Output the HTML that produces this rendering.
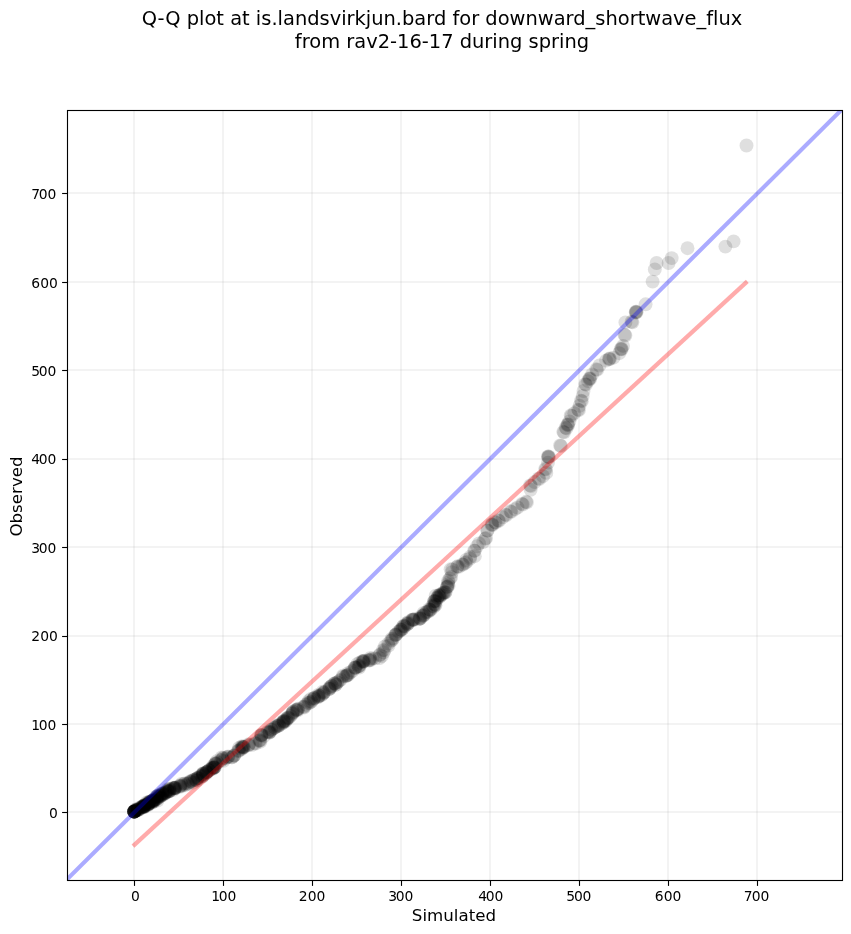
<!DOCTYPE html>
<html lang="en"><head><meta charset="utf-8"><title>Q-Q plot</title>
<style>html,body{margin:0;padding:0;background:#fff}body{width:851px;height:934px;overflow:hidden}</style></head>
<body>
<svg width="851" height="934" viewBox="0 0 851 934" style="display:block">
<rect x="0" y="0" width="851" height="934" fill="#fff"/>
<defs><clipPath id="ax"><rect x="67.5" y="110.5" width="775.0" height="770.0"/></clipPath></defs>
<g stroke="#b0b0b0" stroke-opacity="0.15" stroke-width="2" fill="none" clip-path="url(#ax)">
<line x1="134" y1="110.5" x2="134" y2="880.5"/>
<line x1="67.5" y1="812" x2="842.5" y2="812"/>
<line x1="223" y1="110.5" x2="223" y2="880.5"/>
<line x1="67.5" y1="724" x2="842.5" y2="724"/>
<line x1="312" y1="110.5" x2="312" y2="880.5"/>
<line x1="67.5" y1="636" x2="842.5" y2="636"/>
<line x1="401" y1="110.5" x2="401" y2="880.5"/>
<line x1="67.5" y1="547" x2="842.5" y2="547"/>
<line x1="490" y1="110.5" x2="490" y2="880.5"/>
<line x1="67.5" y1="459" x2="842.5" y2="459"/>
<line x1="579" y1="110.5" x2="579" y2="880.5"/>
<line x1="67.5" y1="370" x2="842.5" y2="370"/>
<line x1="668" y1="110.5" x2="668" y2="880.5"/>
<line x1="67.5" y1="282" x2="842.5" y2="282"/>
<line x1="757" y1="110.5" x2="757" y2="880.5"/>
<line x1="67.5" y1="193" x2="842.5" y2="193"/>
</g>
<g fill="#000" fill-opacity="0.125" clip-path="url(#ax)">
<circle cx="134.1" cy="811.5" r="6.95"/>
<circle cx="134.2" cy="811.5" r="6.95"/>
<circle cx="134.3" cy="811.5" r="6.95"/>
<circle cx="134.1" cy="811.6" r="6.95"/>
<circle cx="134.2" cy="811.6" r="6.95"/>
<circle cx="134.3" cy="811.6" r="6.95"/>
<circle cx="134.1" cy="811.7" r="6.95"/>
<circle cx="134.2" cy="811.7" r="6.95"/>
<circle cx="134.3" cy="811.7" r="6.95"/>
<circle cx="134.1" cy="811.5" r="6.95"/>
<circle cx="134.2" cy="811.5" r="6.95"/>
<circle cx="134.3" cy="811.5" r="6.95"/>
<circle cx="134.1" cy="811.6" r="6.95"/>
<circle cx="134.2" cy="811.6" r="6.95"/>
<circle cx="134.3" cy="811.6" r="6.95"/>
<circle cx="134.1" cy="811.7" r="6.95"/>
<circle cx="138.3" cy="808.9" r="6.95"/>
<circle cx="135.3" cy="810.7" r="6.95"/>
<circle cx="138.1" cy="810.2" r="6.95"/>
<circle cx="135.1" cy="809.9" r="6.95"/>
<circle cx="138.2" cy="809.7" r="6.95"/>
<circle cx="139.5" cy="809.4" r="6.95"/>
<circle cx="136.9" cy="809.8" r="6.95"/>
<circle cx="140.5" cy="807.9" r="6.95"/>
<circle cx="135.7" cy="809.7" r="6.95"/>
<circle cx="137.3" cy="809.9" r="6.95"/>
<circle cx="136.6" cy="810.1" r="6.95"/>
<circle cx="137.7" cy="810.1" r="6.95"/>
<circle cx="138.7" cy="809.3" r="6.95"/>
<circle cx="135.0" cy="811.5" r="6.95"/>
<circle cx="135.2" cy="810.7" r="6.95"/>
<circle cx="135.2" cy="810.9" r="6.95"/>
<circle cx="136.2" cy="810.5" r="6.95"/>
<circle cx="141.5" cy="807.6" r="6.95"/>
<circle cx="137.8" cy="808.5" r="6.95"/>
<circle cx="142.8" cy="807.1" r="6.95"/>
<circle cx="142.6" cy="806.1" r="6.95"/>
<circle cx="143.3" cy="805.9" r="6.95"/>
<circle cx="145.1" cy="805.2" r="6.95"/>
<circle cx="143.7" cy="806.4" r="6.95"/>
<circle cx="143.8" cy="805.8" r="6.95"/>
<circle cx="144.1" cy="806.1" r="6.95"/>
<circle cx="144.7" cy="806.4" r="6.95"/>
<circle cx="142.7" cy="806.2" r="6.95"/>
<circle cx="143.9" cy="806.6" r="6.95"/>
<circle cx="144.8" cy="805.5" r="6.95"/>
<circle cx="143.7" cy="806.8" r="6.95"/>
<circle cx="143.2" cy="806.8" r="6.95"/>
<circle cx="142.8" cy="806.3" r="6.95"/>
<circle cx="141.3" cy="807.3" r="6.95"/>
<circle cx="144.0" cy="807.4" r="6.95"/>
<circle cx="144.4" cy="806.8" r="6.95"/>
<circle cx="144.0" cy="806.7" r="6.95"/>
<circle cx="149.9" cy="802.0" r="6.95"/>
<circle cx="147.7" cy="805.4" r="6.95"/>
<circle cx="148.5" cy="804.0" r="6.95"/>
<circle cx="148.5" cy="802.3" r="6.95"/>
<circle cx="151.6" cy="802.7" r="6.95"/>
<circle cx="148.3" cy="804.0" r="6.95"/>
<circle cx="147.6" cy="803.0" r="6.95"/>
<circle cx="147.8" cy="804.0" r="6.95"/>
<circle cx="149.5" cy="803.2" r="6.95"/>
<circle cx="148.4" cy="804.4" r="6.95"/>
<circle cx="147.2" cy="804.7" r="6.95"/>
<circle cx="149.1" cy="802.6" r="6.95"/>
<circle cx="145.2" cy="804.6" r="6.95"/>
<circle cx="148.3" cy="803.8" r="6.95"/>
<circle cx="149.4" cy="801.8" r="6.95"/>
<circle cx="148.1" cy="804.0" r="6.95"/>
<circle cx="146.7" cy="802.4" r="6.95"/>
<circle cx="153.8" cy="799.3" r="6.95"/>
<circle cx="152.4" cy="801.1" r="6.95"/>
<circle cx="156.2" cy="799.0" r="6.95"/>
<circle cx="153.6" cy="801.5" r="6.95"/>
<circle cx="153.5" cy="801.8" r="6.95"/>
<circle cx="151.8" cy="800.9" r="6.95"/>
<circle cx="154.3" cy="800.9" r="6.95"/>
<circle cx="153.8" cy="800.3" r="6.95"/>
<circle cx="150.3" cy="801.7" r="6.95"/>
<circle cx="151.9" cy="800.9" r="6.95"/>
<circle cx="153.5" cy="800.0" r="6.95"/>
<circle cx="153.9" cy="800.1" r="6.95"/>
<circle cx="152.5" cy="801.0" r="6.95"/>
<circle cx="153.7" cy="800.8" r="6.95"/>
<circle cx="152.2" cy="800.9" r="6.95"/>
<circle cx="151.7" cy="802.7" r="6.95"/>
<circle cx="157.1" cy="796.9" r="6.95"/>
<circle cx="158.5" cy="797.3" r="6.95"/>
<circle cx="161.0" cy="795.6" r="6.95"/>
<circle cx="156.3" cy="796.5" r="6.95"/>
<circle cx="160.0" cy="796.2" r="6.95"/>
<circle cx="156.3" cy="798.7" r="6.95"/>
<circle cx="157.5" cy="800.6" r="6.95"/>
<circle cx="159.8" cy="796.7" r="6.95"/>
<circle cx="157.2" cy="796.2" r="6.95"/>
<circle cx="157.5" cy="796.5" r="6.95"/>
<circle cx="158.1" cy="795.5" r="6.95"/>
<circle cx="157.5" cy="798.7" r="6.95"/>
<circle cx="159.8" cy="795.2" r="6.95"/>
<circle cx="156.6" cy="799.1" r="6.95"/>
<circle cx="158.9" cy="796.0" r="6.95"/>
<circle cx="157.1" cy="797.4" r="6.95"/>
<circle cx="164.9" cy="793.3" r="6.95"/>
<circle cx="165.6" cy="792.2" r="6.95"/>
<circle cx="162.5" cy="793.5" r="6.95"/>
<circle cx="162.4" cy="793.3" r="6.95"/>
<circle cx="161.1" cy="795.8" r="6.95"/>
<circle cx="165.2" cy="793.3" r="6.95"/>
<circle cx="164.8" cy="793.0" r="6.95"/>
<circle cx="162.2" cy="794.6" r="6.95"/>
<circle cx="162.2" cy="793.6" r="6.95"/>
<circle cx="160.4" cy="794.5" r="6.95"/>
<circle cx="163.1" cy="794.0" r="6.95"/>
<circle cx="163.0" cy="795.2" r="6.95"/>
<circle cx="163.5" cy="794.1" r="6.95"/>
<circle cx="166.2" cy="792.3" r="6.95"/>
<circle cx="168.2" cy="791.9" r="6.95"/>
<circle cx="169.5" cy="791.1" r="6.95"/>
<circle cx="169.2" cy="788.9" r="6.95"/>
<circle cx="169.6" cy="789.8" r="6.95"/>
<circle cx="167.6" cy="790.9" r="6.95"/>
<circle cx="170.1" cy="790.8" r="6.95"/>
<circle cx="169.7" cy="789.0" r="6.95"/>
<circle cx="167.3" cy="789.5" r="6.95"/>
<circle cx="168.8" cy="791.1" r="6.95"/>
<circle cx="167.8" cy="791.3" r="6.95"/>
<circle cx="169.3" cy="791.2" r="6.95"/>
<circle cx="167.4" cy="790.6" r="6.95"/>
<circle cx="175.9" cy="787.5" r="6.95"/>
<circle cx="174.8" cy="788.2" r="6.95"/>
<circle cx="174.6" cy="788.0" r="6.95"/>
<circle cx="173.6" cy="787.6" r="6.95"/>
<circle cx="174.0" cy="789.7" r="6.95"/>
<circle cx="175.2" cy="788.0" r="6.95"/>
<circle cx="174.1" cy="788.4" r="6.95"/>
<circle cx="174.7" cy="787.6" r="6.95"/>
<circle cx="174.8" cy="788.3" r="6.95"/>
<circle cx="173.2" cy="788.2" r="6.95"/>
<circle cx="181.4" cy="784.0" r="6.95"/>
<circle cx="180.1" cy="785.7" r="6.95"/>
<circle cx="179.8" cy="786.4" r="6.95"/>
<circle cx="182.3" cy="785.5" r="6.95"/>
<circle cx="180.3" cy="785.7" r="6.95"/>
<circle cx="180.7" cy="786.7" r="6.95"/>
<circle cx="184.8" cy="783.7" r="6.95"/>
<circle cx="185.1" cy="785.2" r="6.95"/>
<circle cx="187.3" cy="783.5" r="6.95"/>
<circle cx="188.8" cy="782.7" r="6.95"/>
<circle cx="188.1" cy="784.0" r="6.95"/>
<circle cx="184.3" cy="783.5" r="6.95"/>
<circle cx="193.1" cy="780.0" r="6.95"/>
<circle cx="193.0" cy="780.7" r="6.95"/>
<circle cx="191.1" cy="781.7" r="6.95"/>
<circle cx="190.8" cy="780.9" r="6.95"/>
<circle cx="190.1" cy="781.7" r="6.95"/>
<circle cx="193.2" cy="782.6" r="6.95"/>
<circle cx="195.2" cy="779.4" r="6.95"/>
<circle cx="196.8" cy="780.5" r="6.95"/>
<circle cx="197.8" cy="777.7" r="6.95"/>
<circle cx="198.7" cy="778.2" r="6.95"/>
<circle cx="195.0" cy="779.5" r="6.95"/>
<circle cx="197.0" cy="778.8" r="6.95"/>
<circle cx="197.3" cy="778.3" r="6.95"/>
<circle cx="197.3" cy="778.1" r="6.95"/>
<circle cx="196.7" cy="780.2" r="6.95"/>
<circle cx="200.4" cy="776.5" r="6.95"/>
<circle cx="202.8" cy="773.8" r="6.95"/>
<circle cx="203.5" cy="774.0" r="6.95"/>
<circle cx="202.8" cy="774.8" r="6.95"/>
<circle cx="203.1" cy="775.7" r="6.95"/>
<circle cx="202.5" cy="776.5" r="6.95"/>
<circle cx="201.0" cy="775.4" r="6.95"/>
<circle cx="202.8" cy="774.0" r="6.95"/>
<circle cx="202.3" cy="776.1" r="6.95"/>
<circle cx="203.1" cy="773.1" r="6.95"/>
<circle cx="209.0" cy="770.5" r="6.95"/>
<circle cx="206.8" cy="772.0" r="6.95"/>
<circle cx="206.1" cy="772.5" r="6.95"/>
<circle cx="207.3" cy="771.8" r="6.95"/>
<circle cx="209.0" cy="770.5" r="6.95"/>
<circle cx="206.3" cy="773.6" r="6.95"/>
<circle cx="206.1" cy="772.4" r="6.95"/>
<circle cx="207.3" cy="771.6" r="6.95"/>
<circle cx="206.3" cy="772.4" r="6.95"/>
<circle cx="210.0" cy="769.4" r="6.95"/>
<circle cx="214.1" cy="767.5" r="6.95"/>
<circle cx="213.1" cy="765.8" r="6.95"/>
<circle cx="211.9" cy="768.6" r="6.95"/>
<circle cx="214.0" cy="768.0" r="6.95"/>
<circle cx="213.4" cy="767.2" r="6.95"/>
<circle cx="212.9" cy="767.6" r="6.95"/>
<circle cx="213.5" cy="767.9" r="6.95"/>
<circle cx="212.2" cy="767.6" r="6.95"/>
<circle cx="212.3" cy="769.1" r="6.95"/>
<circle cx="214.9" cy="767.2" r="6.95"/>
<circle cx="214.3" cy="767.4" r="6.95"/>
<circle cx="215.4" cy="763.9" r="6.95"/>
<circle cx="216.2" cy="763.9" r="6.95"/>
<circle cx="215.9" cy="763.4" r="6.95"/>
<circle cx="217.6" cy="762.8" r="6.95"/>
<circle cx="215.2" cy="763.3" r="6.95"/>
<circle cx="216.6" cy="761.3" r="6.95"/>
<circle cx="221.6" cy="757.4" r="6.95"/>
<circle cx="223.0" cy="758.1" r="6.95"/>
<circle cx="220.9" cy="760.3" r="6.95"/>
<circle cx="223.5" cy="760.9" r="6.95"/>
<circle cx="222.5" cy="758.3" r="6.95"/>
<circle cx="222.4" cy="759.7" r="6.95"/>
<circle cx="228.1" cy="756.5" r="6.95"/>
<circle cx="227.5" cy="756.9" r="6.95"/>
<circle cx="225.7" cy="758.2" r="6.95"/>
<circle cx="228.4" cy="757.1" r="6.95"/>
<circle cx="234.2" cy="755.3" r="6.95"/>
<circle cx="231.8" cy="757.4" r="6.95"/>
<circle cx="232.0" cy="757.3" r="6.95"/>
<circle cx="234.0" cy="755.8" r="6.95"/>
<circle cx="234.0" cy="755.7" r="6.95"/>
<circle cx="237.7" cy="751.2" r="6.95"/>
<circle cx="239.0" cy="750.9" r="6.95"/>
<circle cx="239.0" cy="747.9" r="6.95"/>
<circle cx="238.7" cy="750.3" r="6.95"/>
<circle cx="241.4" cy="749.1" r="6.95"/>
<circle cx="243.0" cy="748.0" r="6.95"/>
<circle cx="241.8" cy="747.9" r="6.95"/>
<circle cx="242.9" cy="747.0" r="6.95"/>
<circle cx="241.6" cy="746.5" r="6.95"/>
<circle cx="244.1" cy="747.0" r="6.95"/>
<circle cx="242.5" cy="746.5" r="6.95"/>
<circle cx="243.6" cy="747.0" r="6.95"/>
<circle cx="242.9" cy="747.1" r="6.95"/>
<circle cx="248.8" cy="744.2" r="6.95"/>
<circle cx="248.8" cy="745.1" r="6.95"/>
<circle cx="248.4" cy="745.2" r="6.95"/>
<circle cx="252.5" cy="744.7" r="6.95"/>
<circle cx="254.9" cy="743.1" r="6.95"/>
<circle cx="255.7" cy="743.5" r="6.95"/>
<circle cx="259.0" cy="740.7" r="6.95"/>
<circle cx="259.9" cy="740.0" r="6.95"/>
<circle cx="260.1" cy="740.5" r="6.95"/>
<circle cx="260.5" cy="741.7" r="6.95"/>
<circle cx="261.2" cy="735.1" r="6.95"/>
<circle cx="264.0" cy="736.1" r="6.95"/>
<circle cx="261.8" cy="734.9" r="6.95"/>
<circle cx="261.4" cy="734.9" r="6.95"/>
<circle cx="261.4" cy="735.7" r="6.95"/>
<circle cx="268.1" cy="731.5" r="6.95"/>
<circle cx="269.6" cy="731.8" r="6.95"/>
<circle cx="267.4" cy="732.4" r="6.95"/>
<circle cx="269.7" cy="732.6" r="6.95"/>
<circle cx="270.2" cy="731.6" r="6.95"/>
<circle cx="269.1" cy="732.5" r="6.95"/>
<circle cx="271.7" cy="729.7" r="6.95"/>
<circle cx="274.6" cy="727.7" r="6.95"/>
<circle cx="274.9" cy="727.7" r="6.95"/>
<circle cx="273.2" cy="728.6" r="6.95"/>
<circle cx="271.1" cy="729.6" r="6.95"/>
<circle cx="278.9" cy="725.5" r="6.95"/>
<circle cx="278.9" cy="725.6" r="6.95"/>
<circle cx="277.4" cy="725.6" r="6.95"/>
<circle cx="278.9" cy="724.4" r="6.95"/>
<circle cx="276.1" cy="726.5" r="6.95"/>
<circle cx="277.4" cy="726.3" r="6.95"/>
<circle cx="283.8" cy="722.5" r="6.95"/>
<circle cx="283.6" cy="721.5" r="6.95"/>
<circle cx="283.7" cy="721.5" r="6.95"/>
<circle cx="285.3" cy="721.4" r="6.95"/>
<circle cx="282.1" cy="723.5" r="6.95"/>
<circle cx="283.5" cy="721.2" r="6.95"/>
<circle cx="286.5" cy="719.2" r="6.95"/>
<circle cx="286.4" cy="720.2" r="6.95"/>
<circle cx="282.5" cy="722.5" r="6.95"/>
<circle cx="284.5" cy="720.6" r="6.95"/>
<circle cx="287.9" cy="717.5" r="6.95"/>
<circle cx="290.5" cy="715.9" r="6.95"/>
<circle cx="288.0" cy="718.1" r="6.95"/>
<circle cx="287.3" cy="718.2" r="6.95"/>
<circle cx="288.8" cy="717.9" r="6.95"/>
<circle cx="292.2" cy="714.0" r="6.95"/>
<circle cx="292.7" cy="713.2" r="6.95"/>
<circle cx="292.2" cy="712.9" r="6.95"/>
<circle cx="293.2" cy="711.5" r="6.95"/>
<circle cx="296.3" cy="709.9" r="6.95"/>
<circle cx="293.1" cy="712.0" r="6.95"/>
<circle cx="298.0" cy="708.8" r="6.95"/>
<circle cx="297.6" cy="710.6" r="6.95"/>
<circle cx="297.0" cy="709.5" r="6.95"/>
<circle cx="296.3" cy="710.2" r="6.95"/>
<circle cx="297.9" cy="709.4" r="6.95"/>
<circle cx="305.8" cy="704.8" r="6.95"/>
<circle cx="304.4" cy="706.5" r="6.95"/>
<circle cx="304.1" cy="707.5" r="6.95"/>
<circle cx="303.3" cy="706.8" r="6.95"/>
<circle cx="311.5" cy="701.6" r="6.95"/>
<circle cx="307.7" cy="702.9" r="6.95"/>
<circle cx="308.8" cy="703.2" r="6.95"/>
<circle cx="310.1" cy="702.5" r="6.95"/>
<circle cx="308.7" cy="701.0" r="6.95"/>
<circle cx="314.1" cy="697.8" r="6.95"/>
<circle cx="313.8" cy="698.5" r="6.95"/>
<circle cx="313.2" cy="699.7" r="6.95"/>
<circle cx="314.1" cy="698.2" r="6.95"/>
<circle cx="310.9" cy="698.9" r="6.95"/>
<circle cx="318.1" cy="694.9" r="6.95"/>
<circle cx="318.4" cy="697.1" r="6.95"/>
<circle cx="321.7" cy="695.0" r="6.95"/>
<circle cx="319.7" cy="695.8" r="6.95"/>
<circle cx="317.8" cy="696.8" r="6.95"/>
<circle cx="318.5" cy="696.0" r="6.95"/>
<circle cx="319.1" cy="695.8" r="6.95"/>
<circle cx="324.7" cy="691.8" r="6.95"/>
<circle cx="322.7" cy="691.7" r="6.95"/>
<circle cx="323.8" cy="692.7" r="6.95"/>
<circle cx="323.1" cy="693.9" r="6.95"/>
<circle cx="323.5" cy="692.8" r="6.95"/>
<circle cx="331.8" cy="685.7" r="6.95"/>
<circle cx="330.5" cy="687.0" r="6.95"/>
<circle cx="329.6" cy="687.4" r="6.95"/>
<circle cx="329.4" cy="688.9" r="6.95"/>
<circle cx="331.7" cy="686.0" r="6.95"/>
<circle cx="329.9" cy="688.6" r="6.95"/>
<circle cx="329.0" cy="689.0" r="6.95"/>
<circle cx="335.5" cy="684.8" r="6.95"/>
<circle cx="334.5" cy="683.4" r="6.95"/>
<circle cx="335.0" cy="683.2" r="6.95"/>
<circle cx="336.0" cy="684.7" r="6.95"/>
<circle cx="335.1" cy="683.6" r="6.95"/>
<circle cx="337.7" cy="682.1" r="6.95"/>
<circle cx="340.8" cy="679.6" r="6.95"/>
<circle cx="339.3" cy="680.8" r="6.95"/>
<circle cx="337.1" cy="682.5" r="6.95"/>
<circle cx="342.9" cy="675.7" r="6.95"/>
<circle cx="345.8" cy="675.9" r="6.95"/>
<circle cx="345.8" cy="676.4" r="6.95"/>
<circle cx="343.3" cy="676.7" r="6.95"/>
<circle cx="346.9" cy="675.4" r="6.95"/>
<circle cx="348.3" cy="674.9" r="6.95"/>
<circle cx="350.4" cy="672.3" r="6.95"/>
<circle cx="347.5" cy="675.1" r="6.95"/>
<circle cx="347.9" cy="673.3" r="6.95"/>
<circle cx="354.8" cy="668.0" r="6.95"/>
<circle cx="355.2" cy="667.5" r="6.95"/>
<circle cx="355.0" cy="667.4" r="6.95"/>
<circle cx="356.0" cy="667.8" r="6.95"/>
<circle cx="352.7" cy="670.8" r="6.95"/>
<circle cx="358.6" cy="666.1" r="6.95"/>
<circle cx="357.4" cy="664.0" r="6.95"/>
<circle cx="358.7" cy="666.2" r="6.95"/>
<circle cx="359.8" cy="665.8" r="6.95"/>
<circle cx="359.3" cy="667.6" r="6.95"/>
<circle cx="364.1" cy="661.0" r="6.95"/>
<circle cx="362.3" cy="661.1" r="6.95"/>
<circle cx="363.8" cy="660.8" r="6.95"/>
<circle cx="359.8" cy="662.7" r="6.95"/>
<circle cx="363.0" cy="661.1" r="6.95"/>
<circle cx="363.1" cy="661.6" r="6.95"/>
<circle cx="363.3" cy="662.2" r="6.95"/>
<circle cx="369.8" cy="659.6" r="6.95"/>
<circle cx="370.6" cy="660.0" r="6.95"/>
<circle cx="368.7" cy="660.1" r="6.95"/>
<circle cx="369.8" cy="658.3" r="6.95"/>
<circle cx="369.3" cy="660.7" r="6.95"/>
<circle cx="372.5" cy="658.3" r="6.95"/>
<circle cx="375.1" cy="658.4" r="6.95"/>
<circle cx="379.6" cy="658.1" r="6.95"/>
<circle cx="379.5" cy="655.3" r="6.95"/>
<circle cx="381.8" cy="656.2" r="6.95"/>
<circle cx="380.1" cy="654.3" r="6.95"/>
<circle cx="383.6" cy="652.3" r="6.95"/>
<circle cx="382.9" cy="650.1" r="6.95"/>
<circle cx="384.5" cy="650.1" r="6.95"/>
<circle cx="388.2" cy="643.6" r="6.95"/>
<circle cx="384.9" cy="646.5" r="6.95"/>
<circle cx="388.6" cy="645.6" r="6.95"/>
<circle cx="393.0" cy="638.7" r="6.95"/>
<circle cx="391.4" cy="638.9" r="6.95"/>
<circle cx="392.2" cy="640.2" r="6.95"/>
<circle cx="391.0" cy="640.8" r="6.95"/>
<circle cx="396.5" cy="634.0" r="6.95"/>
<circle cx="395.7" cy="634.7" r="6.95"/>
<circle cx="395.2" cy="634.9" r="6.95"/>
<circle cx="395.8" cy="635.1" r="6.95"/>
<circle cx="398.5" cy="631.7" r="6.95"/>
<circle cx="401.6" cy="629.9" r="6.95"/>
<circle cx="399.9" cy="631.2" r="6.95"/>
<circle cx="400.7" cy="629.8" r="6.95"/>
<circle cx="402.7" cy="628.5" r="6.95"/>
<circle cx="404.5" cy="626.5" r="6.95"/>
<circle cx="400.6" cy="629.7" r="6.95"/>
<circle cx="403.5" cy="625.6" r="6.95"/>
<circle cx="404.5" cy="626.0" r="6.95"/>
<circle cx="402.8" cy="626.7" r="6.95"/>
<circle cx="411.8" cy="619.9" r="6.95"/>
<circle cx="408.1" cy="622.2" r="6.95"/>
<circle cx="407.2" cy="623.0" r="6.95"/>
<circle cx="407.5" cy="624.0" r="6.95"/>
<circle cx="408.2" cy="623.4" r="6.95"/>
<circle cx="407.2" cy="624.3" r="6.95"/>
<circle cx="412.8" cy="619.5" r="6.95"/>
<circle cx="414.8" cy="619.2" r="6.95"/>
<circle cx="412.7" cy="619.6" r="6.95"/>
<circle cx="413.4" cy="619.7" r="6.95"/>
<circle cx="413.6" cy="620.2" r="6.95"/>
<circle cx="420.3" cy="618.7" r="6.95"/>
<circle cx="419.6" cy="617.3" r="6.95"/>
<circle cx="420.2" cy="618.2" r="6.95"/>
<circle cx="419.9" cy="618.6" r="6.95"/>
<circle cx="419.1" cy="619.1" r="6.95"/>
<circle cx="422.6" cy="615.6" r="6.95"/>
<circle cx="423.6" cy="613.0" r="6.95"/>
<circle cx="423.8" cy="615.2" r="6.95"/>
<circle cx="424.1" cy="614.4" r="6.95"/>
<circle cx="423.3" cy="615.9" r="6.95"/>
<circle cx="426.2" cy="612.3" r="6.95"/>
<circle cx="430.0" cy="609.6" r="6.95"/>
<circle cx="428.5" cy="611.7" r="6.95"/>
<circle cx="430.0" cy="609.9" r="6.95"/>
<circle cx="426.8" cy="611.9" r="6.95"/>
<circle cx="429.1" cy="609.1" r="6.95"/>
<circle cx="430.6" cy="610.2" r="6.95"/>
<circle cx="433.8" cy="606.9" r="6.95"/>
<circle cx="435.0" cy="604.7" r="6.95"/>
<circle cx="434.3" cy="604.0" r="6.95"/>
<circle cx="432.2" cy="605.8" r="6.95"/>
<circle cx="435.5" cy="605.2" r="6.95"/>
<circle cx="433.0" cy="606.2" r="6.95"/>
<circle cx="434.0" cy="601.4" r="6.95"/>
<circle cx="435.9" cy="601.7" r="6.95"/>
<circle cx="435.4" cy="600.9" r="6.95"/>
<circle cx="437.6" cy="597.5" r="6.95"/>
<circle cx="437.2" cy="598.1" r="6.95"/>
<circle cx="434.3" cy="601.3" r="6.95"/>
<circle cx="434.7" cy="600.6" r="6.95"/>
<circle cx="435.7" cy="595.6" r="6.95"/>
<circle cx="441.5" cy="595.0" r="6.95"/>
<circle cx="439.5" cy="597.1" r="6.95"/>
<circle cx="439.9" cy="596.1" r="6.95"/>
<circle cx="439.5" cy="594.9" r="6.95"/>
<circle cx="438.8" cy="595.7" r="6.95"/>
<circle cx="440.1" cy="595.0" r="6.95"/>
<circle cx="442.1" cy="593.3" r="6.95"/>
<circle cx="438.4" cy="595.4" r="6.95"/>
<circle cx="443.6" cy="593.7" r="6.95"/>
<circle cx="444.4" cy="592.1" r="6.95"/>
<circle cx="445.3" cy="592.6" r="6.95"/>
<circle cx="445.5" cy="592.2" r="6.95"/>
<circle cx="443.6" cy="592.6" r="6.95"/>
<circle cx="447.0" cy="587.5" r="6.95"/>
<circle cx="447.4" cy="586.6" r="6.95"/>
<circle cx="447.1" cy="586.7" r="6.95"/>
<circle cx="448.0" cy="584.4" r="6.95"/>
<circle cx="448.3" cy="582.4" r="6.95"/>
<circle cx="448.2" cy="580.6" r="6.95"/>
<circle cx="448.6" cy="585.7" r="6.95"/>
<circle cx="451.2" cy="577.0" r="6.95"/>
<circle cx="449.9" cy="578.4" r="6.95"/>
<circle cx="451.9" cy="572.3" r="6.95"/>
<circle cx="452.3" cy="569.5" r="6.95"/>
<circle cx="450.6" cy="569.3" r="6.95"/>
<circle cx="457.5" cy="566.3" r="6.95"/>
<circle cx="457.1" cy="566.9" r="6.95"/>
<circle cx="458.9" cy="566.9" r="6.95"/>
<circle cx="465.2" cy="563.0" r="6.95"/>
<circle cx="462.2" cy="564.4" r="6.95"/>
<circle cx="463.1" cy="564.7" r="6.95"/>
<circle cx="470.0" cy="557.0" r="6.95"/>
<circle cx="466.1" cy="560.0" r="6.95"/>
<circle cx="466.6" cy="561.9" r="6.95"/>
<circle cx="470.0" cy="558.5" r="6.95"/>
<circle cx="474.8" cy="556.2" r="6.95"/>
<circle cx="474.2" cy="550.7" r="6.95"/>
<circle cx="474.8" cy="550.8" r="6.95"/>
<circle cx="479.0" cy="543.4" r="6.95"/>
<circle cx="477.0" cy="546.3" r="6.95"/>
<circle cx="485.2" cy="538.8" r="6.95"/>
<circle cx="483.2" cy="542.0" r="6.95"/>
<circle cx="486.1" cy="538.0" r="6.95"/>
<circle cx="487.6" cy="530.6" r="6.95"/>
<circle cx="487.3" cy="530.5" r="6.95"/>
<circle cx="492.4" cy="525.0" r="6.95"/>
<circle cx="491.5" cy="524.9" r="6.95"/>
<circle cx="492.1" cy="524.2" r="6.95"/>
<circle cx="495.7" cy="522.6" r="6.95"/>
<circle cx="494.9" cy="522.0" r="6.95"/>
<circle cx="499.0" cy="520.9" r="6.95"/>
<circle cx="498.2" cy="520.3" r="6.95"/>
<circle cx="502.7" cy="517.3" r="6.95"/>
<circle cx="506.4" cy="515.2" r="6.95"/>
<circle cx="505.6" cy="514.6" r="6.95"/>
<circle cx="511.3" cy="511.9" r="6.95"/>
<circle cx="510.5" cy="511.3" r="6.95"/>
<circle cx="515.0" cy="509.1" r="6.95"/>
<circle cx="517.5" cy="507.5" r="6.95"/>
<circle cx="522.8" cy="504.5" r="6.95"/>
<circle cx="522.0" cy="503.9" r="6.95"/>
<circle cx="526.9" cy="502.4" r="6.95"/>
<circle cx="526.1" cy="501.8" r="6.95"/>
<circle cx="530.6" cy="489.8" r="6.95"/>
<circle cx="531.0" cy="486.0" r="6.95"/>
<circle cx="530.2" cy="485.4" r="6.95"/>
<circle cx="534.7" cy="482.0" r="6.95"/>
<circle cx="539.3" cy="479.0" r="6.95"/>
<circle cx="538.5" cy="478.4" r="6.95"/>
<circle cx="543.0" cy="476.2" r="6.95"/>
<circle cx="546.3" cy="472.9" r="6.95"/>
<circle cx="546.0" cy="469.4" r="6.95"/>
<circle cx="545.2" cy="468.8" r="6.95"/>
<circle cx="548.0" cy="462.6" r="6.95"/>
<circle cx="548.8" cy="457.1" r="6.95"/>
<circle cx="548.1" cy="457.2" r="6.95"/>
<circle cx="548.0" cy="456.5" r="6.95"/>
<circle cx="548.7" cy="456.4" r="6.95"/>
<circle cx="560.9" cy="446.0" r="6.95"/>
<circle cx="560.1" cy="445.4" r="6.95"/>
<circle cx="564.1" cy="432.4" r="6.95"/>
<circle cx="563.3" cy="431.8" r="6.95"/>
<circle cx="566.5" cy="428.3" r="6.95"/>
<circle cx="565.7" cy="427.7" r="6.95"/>
<circle cx="568.2" cy="425.0" r="6.95"/>
<circle cx="567.3" cy="424.9" r="6.95"/>
<circle cx="567.9" cy="424.2" r="6.95"/>
<circle cx="569.4" cy="421.4" r="6.95"/>
<circle cx="571.5" cy="416.0" r="6.95"/>
<circle cx="570.7" cy="415.4" r="6.95"/>
<circle cx="574.3" cy="413.2" r="6.95"/>
<circle cx="578.9" cy="410.2" r="6.95"/>
<circle cx="578.1" cy="409.6" r="6.95"/>
<circle cx="579.5" cy="405.8" r="6.95"/>
<circle cx="581.8" cy="401.2" r="6.95"/>
<circle cx="581.0" cy="400.6" r="6.95"/>
<circle cx="582.7" cy="395.9" r="6.95"/>
<circle cx="583.5" cy="391.0" r="6.95"/>
<circle cx="586.0" cy="384.7" r="6.95"/>
<circle cx="585.2" cy="384.1" r="6.95"/>
<circle cx="588.0" cy="381.1" r="6.95"/>
<circle cx="590.1" cy="379.0" r="6.95"/>
<circle cx="589.2" cy="378.9" r="6.95"/>
<circle cx="589.8" cy="378.2" r="6.95"/>
<circle cx="592.1" cy="374.5" r="6.95"/>
<circle cx="597.1" cy="369.9" r="6.95"/>
<circle cx="596.3" cy="369.3" r="6.95"/>
<circle cx="599.5" cy="365.5" r="6.95"/>
<circle cx="606.1" cy="360.6" r="6.95"/>
<circle cx="609.8" cy="359.2" r="6.95"/>
<circle cx="608.9" cy="359.1" r="6.95"/>
<circle cx="609.5" cy="358.4" r="6.95"/>
<circle cx="613.5" cy="357.7" r="6.95"/>
<circle cx="619.3" cy="353.2" r="6.95"/>
<circle cx="621.7" cy="349.3" r="6.95"/>
<circle cx="620.8" cy="349.2" r="6.95"/>
<circle cx="621.4" cy="348.5" r="6.95"/>
<circle cx="623.0" cy="345.9" r="6.95"/>
<circle cx="625.4" cy="335.5" r="6.95"/>
<circle cx="624.6" cy="334.9" r="6.95"/>
<circle cx="625.4" cy="322.4" r="6.95"/>
<circle cx="632.4" cy="322.3" r="6.95"/>
<circle cx="631.6" cy="321.7" r="6.95"/>
<circle cx="636.5" cy="312.4" r="6.95"/>
<circle cx="635.8" cy="312.5" r="6.95"/>
<circle cx="635.7" cy="311.8" r="6.95"/>
<circle cx="636.4" cy="311.7" r="6.95"/>
<circle cx="645.6" cy="304.3" r="6.95"/>
<circle cx="652.6" cy="281.6" r="6.95"/>
<circle cx="654.8" cy="269.4" r="6.95"/>
<circle cx="656.6" cy="263.0" r="6.95"/>
<circle cx="668.6" cy="263.0" r="6.95"/>
<circle cx="671.7" cy="258.1" r="6.95"/>
<circle cx="687.5" cy="248.2" r="6.95"/>
<circle cx="725.4" cy="246.6" r="6.95"/>
<circle cx="733.6" cy="241.4" r="6.95"/>
<circle cx="746.5" cy="145.5" r="6.95"/>
</g>
<g clip-path="url(#ax)" fill="none" stroke-width="4.17">
<line x1="45.40" y1="900.83" x2="935.40" y2="16.54" stroke="#0000ff" stroke-opacity="0.33"/>
<line x1="133.0" y1="846.1" x2="747.3" y2="281.4" stroke="#ff0000" stroke-opacity="0.33"/>
</g>
<g stroke="#000" stroke-width="1.11" fill="none">
<line x1="134.5" y1="880.5" x2="134.5" y2="885.9"/>
<line x1="67.5" y1="812.5" x2="62.1" y2="812.5"/>
<line x1="223.5" y1="880.5" x2="223.5" y2="885.9"/>
<line x1="67.5" y1="724.5" x2="62.1" y2="724.5"/>
<line x1="312.5" y1="880.5" x2="312.5" y2="885.9"/>
<line x1="67.5" y1="636.5" x2="62.1" y2="636.5"/>
<line x1="401.5" y1="880.5" x2="401.5" y2="885.9"/>
<line x1="67.5" y1="547.5" x2="62.1" y2="547.5"/>
<line x1="490.5" y1="880.5" x2="490.5" y2="885.9"/>
<line x1="67.5" y1="459.5" x2="62.1" y2="459.5"/>
<line x1="579.5" y1="880.5" x2="579.5" y2="885.9"/>
<line x1="67.5" y1="370.5" x2="62.1" y2="370.5"/>
<line x1="668.5" y1="880.5" x2="668.5" y2="885.9"/>
<line x1="67.5" y1="282.5" x2="62.1" y2="282.5"/>
<line x1="757.5" y1="880.5" x2="757.5" y2="885.9"/>
<line x1="67.5" y1="193.5" x2="62.1" y2="193.5"/>
</g>
<rect x="67.5" y="110.5" width="775.0" height="770.0" fill="none" stroke="#000" stroke-width="1.11"/>
<g font-family="DejaVu Sans, Liberation Sans, sans-serif" style="font-variant-ligatures:none;font-feature-settings:&quot;liga&quot; 0" fill="#000" font-size="13.89px">
<text x="130.88" y="901">0</text>
<text x="48.96" y="818">0</text>
<text x="211.14 218.68 227.52" y="901">100</text>
<text x="31.29 38.65 47.5" y="730">100</text>
<text x="298.84 307.68 316.52" y="901">200</text>
<text x="31.29 40.13 48.96" y="641">200</text>
<text x="388.19 395.73 404.57" y="901">300</text>
<text x="31.29 38.65 47.5" y="553">300</text>
<text x="478.19 485.68 494.52" y="901">400</text>
<text x="31.29 38.65 47.5" y="464">400</text>
<text x="566.14 573.88 582.57" y="901">500</text>
<text x="31.29 38.65 47.5" y="376">500</text>
<text x="654.84 663.68 672.52" y="901">600</text>
<text x="31.29 40.13 48.96" y="288">600</text>
<text x="743.84 751.73 760.57" y="901">700</text>
<text x="31.29 38.65 47.5" y="199">700</text>
</g>
<text font-family="DejaVu Sans, Liberation Sans, sans-serif" style="font-variant-ligatures:none;font-feature-settings:&quot;liga&quot; 0" font-size="16.67px" x="453.9" y="921" text-anchor="middle">Simulated</text>
<text font-family="DejaVu Sans, Liberation Sans, sans-serif" style="font-variant-ligatures:none;font-feature-settings:&quot;liga&quot; 0" font-size="16.67px" transform="translate(22,496.5) rotate(-90)" text-anchor="middle">Observed</text>
<text font-family="DejaVu Sans, Liberation Sans, sans-serif" style="font-variant-ligatures:none;font-feature-settings:&quot;liga&quot; 0" font-size="19.44px" x="442" y="25" text-anchor="middle">Q-Q plot at is.landsvirkjun.bard for downward_shortwave_flux</text>
<text font-family="DejaVu Sans, Liberation Sans, sans-serif" style="font-variant-ligatures:none;font-feature-settings:&quot;liga&quot; 0" font-size="19.44px" x="442" y="48" text-anchor="middle">from rav2-16-17 during spring</text>
</svg>
</body></html>
